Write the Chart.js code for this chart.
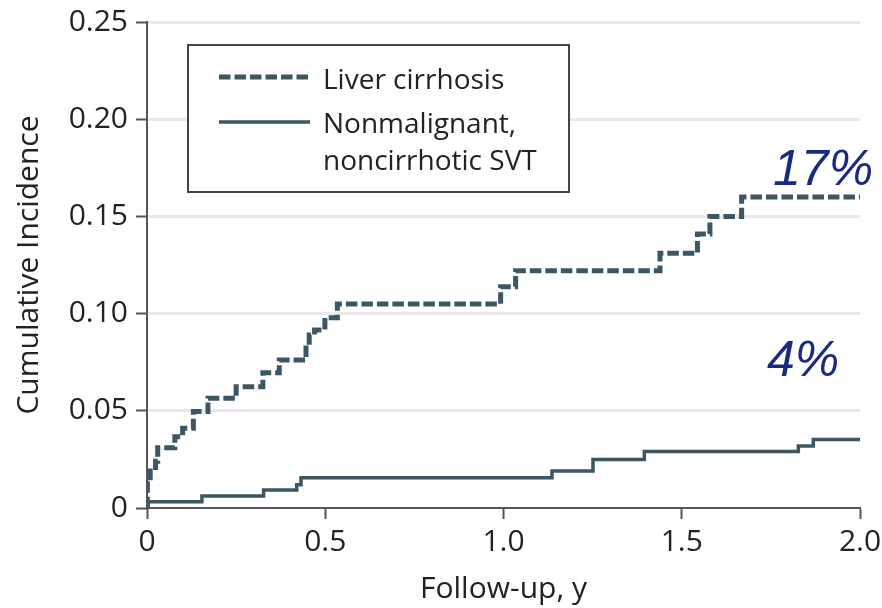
<!DOCTYPE html>
<html>
<head>
<meta charset="utf-8">
<script src="https://cdn.jsdelivr.net/npm/chart.js@4.4.0/dist/chart.umd.min.js"></script>
<style>
  html, body { margin: 0; padding: 0; background: #fff; }
  #wrap { width: 882px; height: 608px; }
</style>
</head>
<body>
<div id="wrap"><canvas id="incidenceChart"></canvas></div>
<script>
// Follow-up (years) at each step and the cumulative incidence after that step
const cirrhosisTimes  = [0, 0.001, 0.009, 0.024, 0.03, 0.078, 0.1, 0.13, 0.171, 0.25, 0.325, 0.371, 0.446, 0.455, 0.47, 0.499, 0.534, 0.992, 1.034, 1.439, 1.544, 1.579, 1.668, 2.0];
const cirrhosisValues = [0, 0.014, 0.019, 0.024, 0.031, 0.0367, 0.041, 0.0496, 0.0564, 0.0624, 0.0696, 0.0761, 0.0838, 0.089, 0.0916, 0.0979, 0.105, 0.1138, 0.122, 0.131, 0.1410, 0.150, 0.160, 0.160];

const svtTimes  = [0, 0.001, 0.154, 0.327, 0.42, 0.432, 1.136, 1.251, 1.395, 1.827, 1.869, 2.0];
const svtValues = [0, 0.0032, 0.0062, 0.0093, 0.012, 0.0155, 0.019, 0.025, 0.029, 0.0319, 0.0353, 0.0353];

const seriesNames = ['Liver cirrhosis', ['Nonmalignant,', 'noncirrhotic SVT']];
const endLabels = ['17%', '4%'];

const xTicks = [0, 0.5, 1.0, 1.5, 2.0];
const xTickLabels = ['0', '0.5', '1.0', '1.5', '2.0'];
const yTicks = [0, 0.05, 0.10, 0.15, 0.20, 0.25];
const yTickLabels = ['0', '0.05', '0.10', '0.15', '0.20', '0.25'];

const lineColor = '#3d5664';
const textColor = '#222';
const axisColor = '#555';

const toPoints = (xs, ys) => xs.map((x, i) => ({ x: x, y: ys[i] }));

// Boxed legend in the upper left of the plot
const legendBox = {
  id: 'legendBox',
  afterDatasetsDraw(chart) {
    const ctx = chart.ctx;
    const datasets = chart.data.datasets;
    ctx.save();
    ctx.fillStyle = '#fff';
    ctx.fillRect(188, 45, 381, 147);
    ctx.strokeStyle = '#444';
    ctx.lineWidth = 2;
    ctx.strokeRect(188, 45, 381, 147);

    const rows = [{ lineY: 77, baselines: [89] }, { lineY: 122, baselines: [133, 170] }];
    datasets.forEach((ds, i) => {
      ctx.strokeStyle = ds.borderColor;
      ctx.lineWidth = ds.borderWidth;
      ctx.setLineDash(ds.borderDash || []);
      ctx.beginPath();
      ctx.moveTo(219, rows[i].lineY);
      ctx.lineTo(310, rows[i].lineY);
      ctx.stroke();
      ctx.setLineDash([]);
      const lines = [].concat(seriesNames[i]);
      ctx.fillStyle = textColor;
      ctx.font = '28px "Open Sans"';
      ctx.textAlign = 'left';
      ctx.textBaseline = 'alphabetic';
      lines.forEach((t, k) => ctx.fillText(t, 323, rows[i].baselines[k]));
    });
    ctx.restore();
  }
};

// Percent labels at the right end of each curve
const endText = {
  id: 'endText',
  afterDatasetsDraw(chart) {
    const ctx = chart.ctx;
    const xs = chart.scales.x, ys = chart.scales.y;
    const spots = [{ x: 1.756, y: 0.166 }, { x: 1.739, y: 0.068 }];
    ctx.save();
    ctx.fillStyle = '#1a2a82';
    ctx.font = 'italic 50px "Liberation Sans"';
    ctx.textAlign = 'left';
    ctx.textBaseline = 'alphabetic';
    endLabels.forEach((t, i) => {
      ctx.fillText(t, xs.getPixelForValue(spots[i].x), ys.getPixelForValue(spots[i].y));
    });
    ctx.restore();
  }
};

new Chart(document.getElementById('incidenceChart'), {
  type: 'line',
  data: {
    datasets: [{
      label: 'Liver cirrhosis',
      data: toPoints(cirrhosisTimes, cirrhosisValues),
      borderColor: lineColor,
      borderWidth: 5,
      borderDash: [11.5, 4],
      borderCapStyle: 'butt',
      stepped: 'before',
      pointRadius: 0,
      fill: false
    }, {
      label: 'Nonmalignant, noncirrhotic SVT',
      data: toPoints(svtTimes, svtValues),
      borderColor: lineColor,
      borderWidth: 3.5,
      stepped: 'before',
      pointRadius: 0,
      fill: false
    }]
  },
  options: {
    responsive: true,
    maintainAspectRatio: false,
    animation: false,
    layout: { padding: { top: 22, right: 22, left: 0, bottom: 0 } },
    plugins: {
      legend: { display: false },
      tooltip: { enabled: false }
    },
    scales: {
      x: {
        type: 'linear',
        min: 0,
        max: 2,
        afterBuildTicks: s => { s.ticks = xTicks.map(v => ({ value: v })); },
        afterFit: s => { s.height = 100; s.paddingLeft = 0; s.paddingRight = 0; },
        ticks: {
          callback: v => xTickLabels[xTicks.indexOf(v)],
          color: textColor,
          font: { family: 'Open Sans', size: 30 },
          padding: 5,
          maxRotation: 0
        },
        grid: { drawOnChartArea: false, tickLength: 11, tickColor: axisColor, tickWidth: 2 },
        border: { color: axisColor, width: 2 },
        title: {
          display: true,
          text: 'Follow-up, y',
          color: textColor,
          font: { family: 'Open Sans', size: 30 },
          padding: { top: 0, bottom: 1 }
        }
      },
      y: {
        min: 0,
        max: 0.25,
        afterBuildTicks: s => { s.ticks = yTicks.map(v => ({ value: v })); },
        afterFit: s => { s.width = 147; s.paddingTop = 0; s.paddingBottom = 0; },
        ticks: {
          callback: v => yTickLabels[yTicks.indexOf(v)],
          color: textColor,
          font: { family: 'Open Sans', size: 30 },
          padding: 8
        },
        grid: {
          color: c => (c.tick && c.tick.value === 0) ? 'rgba(0,0,0,0)' : '#e8e8e8',
          lineWidth: 3,
          tickLength: 11,
          tickColor: axisColor,
          tickWidth: 2
        },
        border: { color: axisColor, width: 2 },
        title: {
          display: true,
          text: 'Cumulative Incidence',
          color: textColor,
          font: { family: 'Open Sans', size: 30 },
          padding: { top: 11, bottom: 0 }
        }
      }
    }
  },
  plugins: [legendBox, endText]
});
</script>
</body>
</html>
